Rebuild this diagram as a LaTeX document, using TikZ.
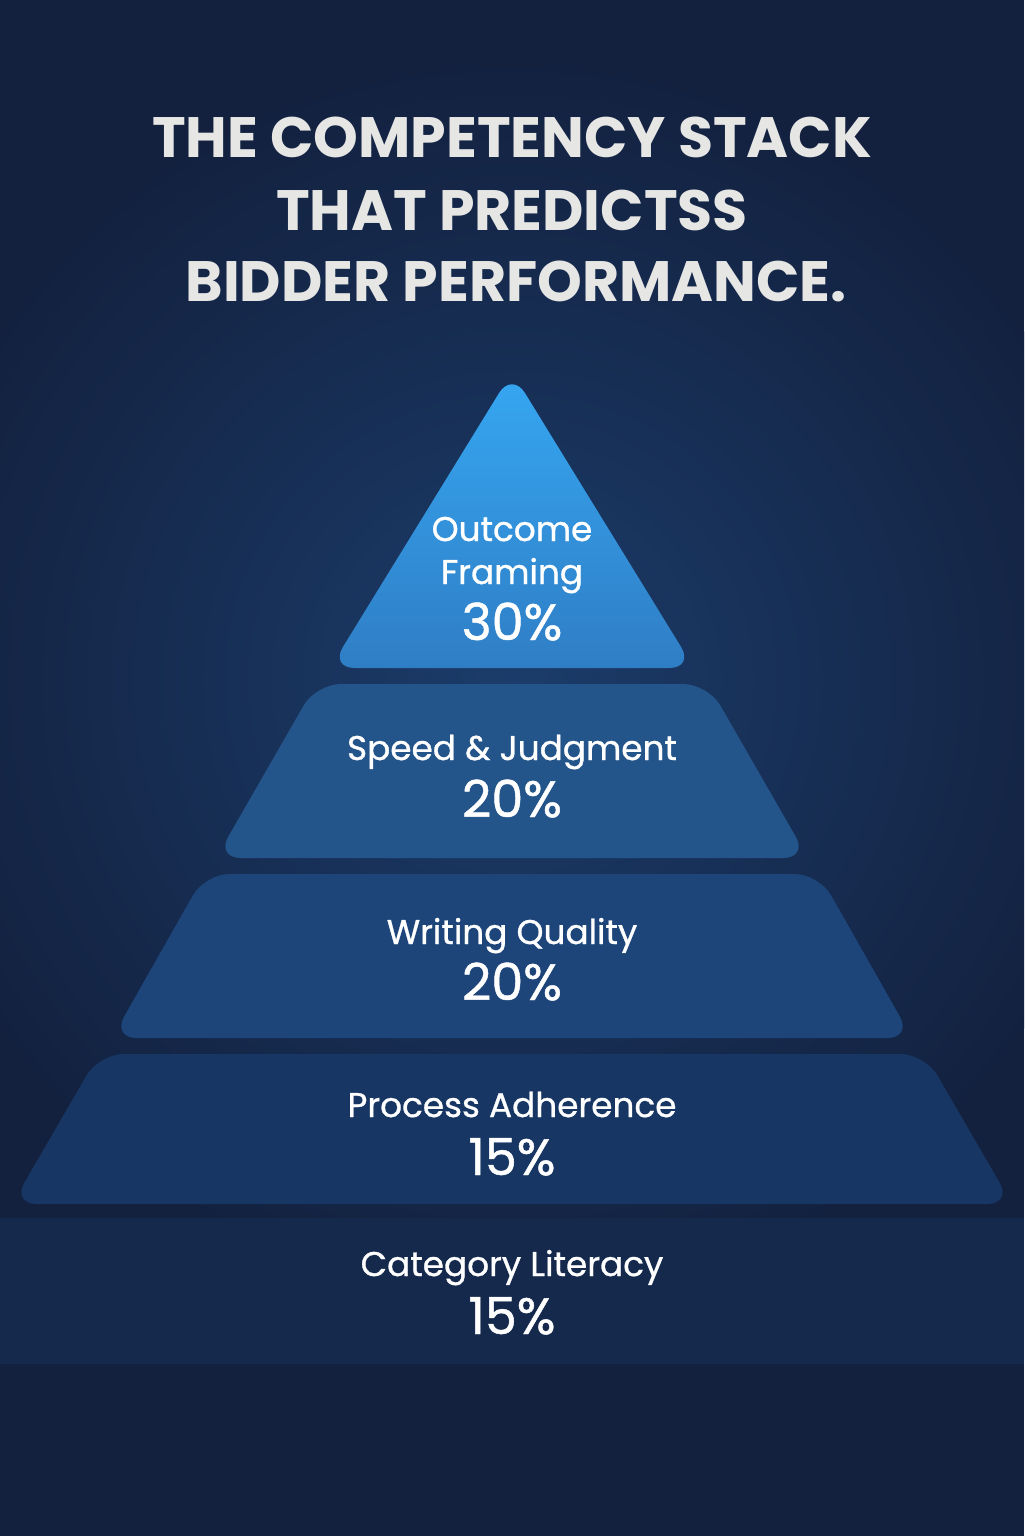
\documentclass[tikz,border=0pt]{standalone}
\usepackage{fontspec}
\setmainfont{Poppins}
\newfontfamily\medfont{Poppins}[FakeBold=0.9]
\usetikzlibrary{positioning}

\definecolor{bgnavy}{HTML}{13213F}
\definecolor{glow}{HTML}{1B3C6A}
\definecolor{tierAtop}{HTML}{36A7F2}
\definecolor{tierAbot}{HTML}{2F7EC5}
\definecolor{tierB}{HTML}{23548A}
\definecolor{tierC}{HTML}{1D457A}
\definecolor{tierD}{HTML}{173663}
\definecolor{tierE}{HTML}{15294C}
\definecolor{titlegray}{HTML}{E6E6E4}

\tikzset{
    tier/.style={rounded corners=7pt},
    titleline/.style={text=titlegray, anchor=base, inner sep=0pt, font=\fontsize{16.2}{18}\selectfont\bfseries},
    tiername/.style={text=white, anchor=base, inner sep=0pt, font=\fontsize{9.75}{12}\medfont},
    tierpct/.style={text=white, anchor=base, inner sep=0pt, font=\fontsize{14.5}{16}\medfont},
}

\begin{document}
\begin{tikzpicture}
    \useasboundingbox (0,0) rectangle (10.24,-15.36);

    % Background with glow
    \fill[bgnavy] (0,0) rectangle (10.24,-15.36);
    \begin{scope}
        \clip (0,0) rectangle (10.24,-15.36);
        \shade[inner color=glow, outer color=bgnavy] (5.12,-6.8) circle (6.2);
    \end{scope}

    % Title
    \node[titleline] (title1) at (5.12,-1.58) {THE COMPETENCY STACK};
    \node[titleline] (title2) at (5.12,-2.30) {THAT PREDICTSS};
    \node[titleline] (title3) at (5.16,-3.01) {BIDDER PERFORMANCE.};

    % Bottom band
    \fill[tierE] (0,-12.18) rectangle (10.24,-13.64);

    % Trapezoid tiers
    \foreach \ty/\tw/\by/\bw/\col in {-6.84/1.96/-8.58/2.96/tierB,
                                      -8.74/3.07/-10.38/4.00/tierC,
                                      -10.54/4.13/-12.04/5.00/tierD}
        \fill[tier, \col] ({5.12-\tw},\ty) -- ({5.12+\tw},\ty) -- ({5.12+\bw},\by) -- ({5.12-\bw},\by) -- cycle;

    % Top triangle
    \shade[tier, top color=tierAtop, bottom color=tierAbot]
        (5.12,-3.72) -- (6.94,-6.68) -- (3.30,-6.68) -- cycle;

    % Labels
    \node[tiername] (outcome) at (5.12,-5.41) {Outcome};
    \node[tiername] (framing) at (5.12,-5.84) {Framing};
    \node[tierpct] (pctA) at (5.12,-6.40) {30\%};

    \node[tiername] (speed) at (5.12,-7.60) {Speed \& Judgment};
    \node[tierpct] (pctB) at (5.12,-8.17) {20\%};

    \node[tiername] (writing) at (5.12,-9.44) {Writing Quality};
    \node[tierpct] (pctC) at (5.12,-10.00) {20\%};

    \node[tiername] (process) at (5.12,-11.17) {Process Adherence};
    \node[tierpct] (pctD) at (5.12,-11.75) {15\%};

    \node[tiername] (category) at (5.12,-12.76) {Category Literacy};
    \node[tierpct] (pctE) at (5.12,-13.34) {15\%};
\end{tikzpicture}
\end{document}
